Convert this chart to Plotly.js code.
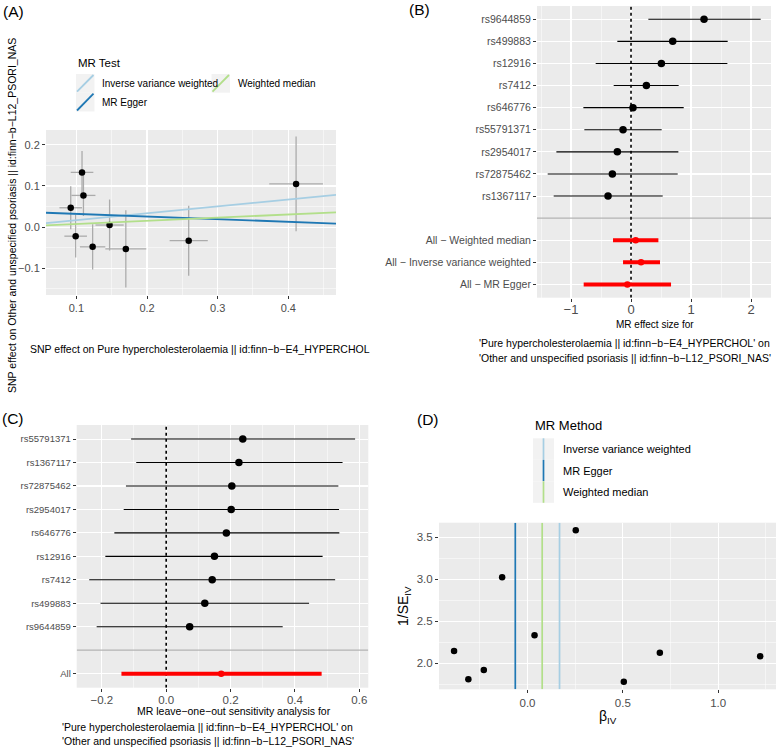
<!DOCTYPE html>
<html><head><meta charset="utf-8">
<script src="https://cdn.plot.ly/plotly-3.0.1.min.js"></script>
<style>body{margin:0;background:#fff;} #chart{width:777px;height:747px;}</style>
</head><body><div id="chart"></div>
<script>
// ---------- Data ----------
// Panel A: SNP effects (exposure x, outcome y) with standard errors
const snpExpBeta = [0.092, 0.099, 0.108, 0.110, 0.123, 0.147, 0.170, 0.259, 0.411];
const snpOutBeta = [0.047, -0.022, 0.133, 0.077, -0.048, 0.005, -0.053, -0.033, 0.105];
const snpExpSe   = [0.016, 0.016, 0.016, 0.017, 0.018, 0.020, 0.029, 0.027, 0.038];
const snpOutSe   = [0.052, 0.052, 0.052, 0.050, 0.055, 0.062, 0.094, 0.085, 0.115];

// MR methods (order: IVW, Egger, Weighted median)
const methodNames = ['Inverse variance weighted', 'MR Egger', 'Weighted median'];
const methodSlope = [0.168, -0.064, 0.077];
const methodIntercept = [0, 0.0386, 0];

// Panel B: single-SNP forest plot
const forestSnps = ['rs9644859','rs499883','rs12916','rs7412','rs646776','rs55791371','rs2954017','rs72875462','rs1367117'];
const forestBeta = [1.217, 0.695, 0.506, 0.256, 0.033, -0.133, -0.228, -0.311, -0.383];
const forestLo   = [0.289, -0.228, -0.589, -0.289, -0.794, -0.778, -1.244, -1.389, -1.289];
const forestHi   = [2.161, 1.611, 1.606, 0.794, 0.878, 0.511, 0.789, 0.778, 0.528];
const forestAllLabels = ['All − Weighted median', 'All − Inverse variance weighted', 'All − MR Egger'];
const forestAllBeta = [0.078, 0.167, -0.061];
const forestAllLo   = [-0.300, -0.133, -0.789];
const forestAllHi   = [0.456, 0.483, 0.667];

// Panel C: leave-one-out
const looSnps = ['rs55791371','rs1367117','rs72875462','rs2954017','rs646776','rs12916','rs7412','rs499883','rs9644859'];
const looBeta = [0.238, 0.226, 0.204, 0.202, 0.187, 0.150, 0.143, 0.120, 0.073];
const looLo   = [-0.109, -0.093, -0.125, -0.132, -0.161, -0.189, -0.239, -0.204, -0.216];
const looHi   = [0.587, 0.548, 0.535, 0.537, 0.538, 0.486, 0.525, 0.444, 0.362];
const looAllLabel = 'All';
const looAllBeta = 0.171, looAllLo = -0.139, looAllHi = 0.483;

// Panel D: funnel plot
const funnelBeta  = [-0.385, -0.310, -0.229, -0.133, 0.037, 0.253, 0.505, 0.694, 1.220];
const funnelInvSe = [2.146, 1.810, 1.920, 3.024, 2.333, 3.583, 1.780, 2.125, 2.085];

// ---------- Helpers ----------
const W = 777, H = 747;
const px = v => v / W;
const py = v => 1 - v / H;
const FONT = 'Liberation Sans, Arial, Helvetica, sans-serif';
const methodColors = ['#A6CEE3', '#1F78B4', '#B2DF8A'];
const tickFont = s => ({family: FONT, size: s, color: '#4D4D4D'});

function baseAxis(extra) {
  return Object.assign({
    showgrid: true, gridcolor: '#FFFFFF', gridwidth: 1.1,
    zeroline: false, showline: false,
    ticks: 'outside', ticklen: 3, tickwidth: 1, tickcolor: '#333333',
    tickfont: tickFont(11), fixedrange: true
  }, extra);
}

// axis ranges
const aRangeX = [0.057, 0.4675], aRangeY = [-0.165, 0.236];
const bRangeX = [-1.567, 2.333];
const cRangeX = [-0.278, 0.628];
const dRangeX = [-0.464, 1.303], dRangeY = [1.69, 3.674];

const nB = forestSnps.length + 1 + forestAllLabels.length; // 13 rows incl. gap
const bRangeY = [0.4, nB + 0.6];
const bSnpPos = forestSnps.map((_, i) => nB - i);
const bGapPos = nB - forestSnps.length;
const bAllPos = forestAllLabels.map((_, i) => bGapPos - 1 - i);

const nC = looSnps.length + 2; // 11 rows incl. gap
const cRangeY = [0.4, nC + 0.6];
const cSnpPos = looSnps.map((_, i) => nC - i);
const cGapPos = nC - looSnps.length;
const cAllPos = cGapPos - 1;

const traces = [];
function refLine(xa, ya, x, y, color, width, dash) {
  traces.push({type: 'scatter', mode: 'lines', xaxis: xa, yaxis: ya, x: x, y: y,
    line: {color: color, width: width, dash: dash || 'solid'}, hoverinfo: 'skip', cliponaxis: true});
}

// ----- Panel A -----
traces.push({
  type: 'scatter', mode: 'markers', xaxis: 'x', yaxis: 'y',
  x: snpExpBeta, y: snpOutBeta,
  marker: {color: '#000', size: 6.5},
  error_x: {type: 'data', array: snpExpSe, width: 0, thickness: 1.3, color: '#ABABAB'},
  error_y: {type: 'data', array: snpOutSe, width: 0, thickness: 1.3, color: '#ABABAB'},
  hoverinfo: 'skip'
});
methodNames.forEach((m, i) => {
  refLine('x', 'y', aRangeX, aRangeX.map(v => methodIntercept[i] + methodSlope[i] * v), methodColors[i], 1.8);
});

// ----- Panel B -----
refLine('x2', 'y2', bRangeX, [bGapPos, bGapPos], '#B3B3B3', 1.1);
refLine('x2', 'y2', [0, 0], bRangeY, '#000', 1.6, 'dot');
traces.push({
  type: 'scatter', mode: 'markers', xaxis: 'x2', yaxis: 'y2',
  x: forestBeta, y: bSnpPos,
  marker: {color: '#000', size: 7.5},
  error_x: {type: 'data', symmetric: false,
    array: forestHi.map((h, i) => h - forestBeta[i]),
    arrayminus: forestLo.map((l, i) => forestBeta[i] - l),
    width: 0, thickness: 1.1, color: '#000'},
  hoverinfo: 'skip'
});
traces.push({
  type: 'scatter', mode: 'markers', xaxis: 'x2', yaxis: 'y2',
  x: forestAllBeta, y: bAllPos,
  marker: {color: '#FF0000', size: 6.5},
  error_x: {type: 'data', symmetric: false,
    array: forestAllHi.map((h, i) => h - forestAllBeta[i]),
    arrayminus: forestAllLo.map((l, i) => forestAllBeta[i] - l),
    width: 0, thickness: 4, color: '#FF0000'},
  hoverinfo: 'skip'
});

// ----- Panel C -----
refLine('x3', 'y3', cRangeX, [cGapPos, cGapPos], '#B3B3B3', 1.1);
refLine('x3', 'y3', [0, 0], cRangeY, '#000', 1.6, 'dot');
traces.push({
  type: 'scatter', mode: 'markers', xaxis: 'x3', yaxis: 'y3',
  x: looBeta, y: cSnpPos,
  marker: {color: '#000', size: 7.5},
  error_x: {type: 'data', symmetric: false,
    array: looHi.map((h, i) => h - looBeta[i]),
    arrayminus: looLo.map((l, i) => looBeta[i] - l),
    width: 0, thickness: 1.1, color: '#000'},
  hoverinfo: 'skip'
});
traces.push({
  type: 'scatter', mode: 'markers', xaxis: 'x3', yaxis: 'y3',
  x: [looAllBeta], y: [cAllPos],
  marker: {color: '#FF0000', size: 6.5},
  error_x: {type: 'data', symmetric: false,
    array: [looAllHi - looAllBeta], arrayminus: [looAllBeta - looAllLo],
    width: 0, thickness: 4, color: '#FF0000'},
  hoverinfo: 'skip'
});

// ----- Panel D -----
methodNames.forEach((m, i) => {
  refLine('x4', 'y4', [methodSlope[i], methodSlope[i]], dRangeY, methodColors[i], 1.7);
});
traces.push({
  type: 'scatter', mode: 'markers', xaxis: 'x4', yaxis: 'y4',
  x: funnelBeta, y: funnelInvSe,
  marker: {color: '#000', size: 6.5}, hoverinfo: 'skip'
});

// ---------- Legend shapes (paper) ----------
const shapes = [];
const keyA = [[76, 74, 94.5, 92.7], [76, 92.7, 94.5, 111.5], [211.5, 74, 230, 92.7]];
keyA.forEach((k, i) => {
  shapes.push({type: 'rect', xref: 'paper', yref: 'paper', x0: px(k[0]), x1: px(k[2]), y0: py(k[3]), y1: py(k[1]),
    fillcolor: '#F2F2F2', line: {width: 0}});
  shapes.push({type: 'line', xref: 'paper', yref: 'paper', x0: px(k[0] + 1), y0: py(k[3] - 1), x1: px(k[2] - 1), y1: py(k[1] + 1),
    line: {color: methodColors[i], width: 1.8}});
});
const keyDtop = 438.3, keyDh = 21.5;
methodNames.forEach((m, i) => {
  const t = keyDtop + i * keyDh;
  shapes.push({type: 'rect', xref: 'paper', yref: 'paper', x0: px(533), x1: px(554), y0: py(t + keyDh), y1: py(t),
    fillcolor: '#F2F2F2', line: {width: 0}});
  shapes.push({type: 'line', xref: 'paper', yref: 'paper', x0: px(543.5), x1: px(543.5), y0: py(t + keyDh), y1: py(t),
    line: {color: methodColors[i], width: 1.7}});
});

// ---------- Annotations ----------
const ann = [];
function txt(text, x, y, size, opts) {
  ann.push(Object.assign({text: text, xref: 'paper', yref: 'paper', x: px(x), y: py(y),
    showarrow: false, xanchor: 'center', yanchor: 'middle',
    font: {family: FONT, size: size, color: '#000'}}, opts || {}));
}
txt('(A)', 1, 12, 15.5, {xanchor: 'left'});
txt('(B)', 407, 9, 15.5, {xanchor: 'left'});
txt('(C)', 0, 418, 15.5, {xanchor: 'left'});
txt('(D)', 415, 419, 15.5, {xanchor: 'left'});

txt('SNP effect on Other and unspecified psoriasis || id:finn−b−L12_PSORI_NAS', 12, 216, 10.5, {textangle: -90});
txt('SNP effect on Pure hypercholesterolaemia || id:finn−b−E4_HYPERCHOL', 199.5, 349, 10.5);
txt('MR Test', 75.5, 63, 11.5, {xanchor: 'left'});
txt(methodNames[0], 99.5, 83.7, 10, {xanchor: 'left'});
txt(methodNames[1], 99.5, 102.3, 10, {xanchor: 'left'});
txt(methodNames[2], 235.5, 83.7, 10, {xanchor: 'left'});

txt('MR effect size for', 655, 324, 10);
txt("'Pure hypercholesterolaemia || id:finn−b−E4_HYPERCHOL' on", 477, 343.3, 10.5, {xanchor: 'left'});
txt("'Other and unspecified psoriasis || id:finn−b−L12_PSORI_NAS'", 477, 357.7, 10.5, {xanchor: 'left'});

txt('MR leave−one−out sensitivity analysis for', 234, 711, 10.5);
txt("'Pure hypercholesterolaemia || id:finn−b−E4_HYPERCHOL' on", 59.5, 727, 10.5, {xanchor: 'left'});
txt("'Other and unspecified psoriasis || id:finn−b−L12_PSORI_NAS'", 59.5, 740.5, 10.5, {xanchor: 'left'});

txt('MR Method', 533, 425, 13, {xanchor: 'left'});
methodNames.forEach((m, i) => txt(m, 561, 449.3 + i * 21.3, 11, {xanchor: 'left'}));
txt('1/SE<sub>IV</sub>', 404, 606, 14, {textangle: -90});
txt('β<sub>IV</sub>', 607.7, 716.7, 14);

// ---------- Layout ----------
const minorGrid = d => ({dtick: d, showgrid: true, gridcolor: '#FFFFFF', gridwidth: 0.5});
const layout = {
  width: W, height: H, margin: {l: 0, r: 0, t: 0, b: 0},
  paper_bgcolor: '#FFFFFF', plot_bgcolor: '#EBEBEB', showlegend: false,
  font: {family: FONT},
  xaxis: baseAxis({domain: [px(46), px(336)], range: aRangeX, dtick: 0.1, tick0: 0, tickformat: '.1f',
    minor: minorGrid(0.05), anchor: 'y'}),
  yaxis: baseAxis({domain: [py(295), py(130)], range: aRangeY, dtick: 0.1, tick0: 0, tickformat: '.1f',
    minor: minorGrid(0.05), anchor: 'x'}),
  xaxis2: baseAxis({domain: [px(537), px(771)], range: bRangeX, dtick: 1, tick0: 0,
    tickfont: tickFont(13), ticklen: 3, ticklabelstandoff: -3, minor: minorGrid(0.5), anchor: 'y2'}),
  yaxis2: baseAxis({domain: [py(297.7), py(6)], range: bRangeY, tickmode: 'array',
    tickvals: bSnpPos.concat(bAllPos), ticktext: forestSnps.concat(forestAllLabels),
    tickfont: tickFont(10.5), anchor: 'x2'}),
  xaxis3: baseAxis({domain: [px(76.7), px(368.3)], range: cRangeX, dtick: 0.2, tick0: 0, tickformat: '.1f',
    tickfont: tickFont(11.5), ticklen: 3, ticklabelstandoff: -2, minor: minorGrid(0.1), anchor: 'y3'}),
  yaxis3: baseAxis({domain: [py(687.7), py(425)], range: cRangeY, tickmode: 'array',
    tickvals: cSnpPos.concat([cAllPos]), ticktext: looSnps.concat([looAllLabel]),
    tickfont: tickFont(9.5), anchor: 'x3'}),
  xaxis4: baseAxis({domain: [px(439), px(776)], range: dRangeX, dtick: 0.5, tick0: 0, tickformat: '.1f',
    tickfont: tickFont(11.5), minor: minorGrid(0.25), anchor: 'y4'}),
  yaxis4: baseAxis({domain: [py(689.3), py(522.7)], range: dRangeY, dtick: 0.5, tick0: 0, tickformat: '.1f',
    tickfont: tickFont(11.5), minor: minorGrid(0.25), anchor: 'x4'}),
  shapes: shapes,
  annotations: ann
};

Plotly.newPlot('chart', traces, layout, {staticPlot: true, displayModeBar: false});
</script>
</body></html>
